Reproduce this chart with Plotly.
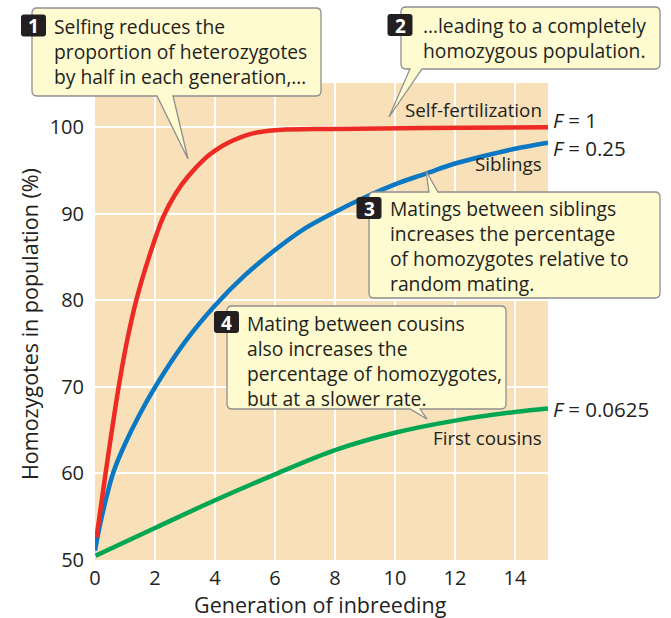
import plotly.graph_objects as go

# Generation of inbreeding vs. percentage of homozygotes for three mating systems
self_gen = [0.05, 0.36, 0.77, 1.05, 1.39, 1.83, 2.27, 2.7, 3.1, 3.67, 4.0, 4.44, 5.17, 6.0, 8.0, 11.0, 15.1]
self_hom = [52.6, 60.2, 69.6, 75.0, 80.2, 85.3, 89.6, 92.4, 94.3, 96.4, 97.3, 98.2, 99.2, 99.65, 99.8, 99.9, 100.0]

sib_gen = [0.0, 0.22, 0.61, 1.0, 1.5, 2.06, 3.0, 4.0, 5.0, 6.0, 7.0, 8.0, 9.0, 10.0, 11.0, 12.0, 13.0, 14.0, 15.1]
sib_hom = [51.1, 54.9, 60.1, 63.4, 66.9, 70.3, 75.2, 79.4, 82.9, 85.8, 88.3, 90.2, 91.9, 93.4, 94.6, 95.8, 96.7, 97.5, 98.2]

cousin_gen = [0.02, 2.0, 4.0, 6.0, 8.0, 10.0, 12.0, 14.0, 15.1]
cousin_hom = [50.5, 53.7, 56.9, 59.9, 62.7, 64.7, 66.1, 67.1, 67.5]

x_ticks = [0, 2, 4, 6, 8, 10, 12, 14]
y_ticks = [50, 60, 70, 80, 90, 100]

curve_names = ["Self-fertilization", "Siblings", "First cousins"]
f_labels = ["<i>F</i> = 1", "<i>F</i> = 0.25", "<i>F</i> = 0.0625"]

callouts = [
    ("1", ["Selfing reduces the", "proportion of heterozygotes", "by half in each generation,…"]),
    ("2", ["…leading to a completely", "homozygous population."]),
    ("3", ["Matings between siblings", "increases the percentage",
           "of homozygotes relative to", "random mating."]),
    ("4", ["Mating between cousins", "also increases the",
           "percentage of homozygotes,", "but at a slower rate."]),
]

W, H = 671, 618
PL, PR, PT, PB = 95, 548, 83, 560
TXT = "#231F20"
FONT = "Open Sans"


def X(px):
    return (px - PL) / (PR - PL)


def Y(py):
    return (PB - py) / (PB - PT)


def P(px, py):
    return f"{X(px):.5f},{Y(py):.5f}"


def bubble(L, T, R, B, tail=None, r=5):
    """Rounded callout box; tail = (side, base_left, base_right, tip_x, tip_y)."""
    d = [f"M {P(L + r, T)}"]
    if tail and tail[0] == "top":
        _, bl, br, tx, ty = tail
        d += [f"L {P(bl, T)}", f"L {P(tx, ty)}", f"L {P(br, T)}"]
    d += [f"L {P(R - r, T)}", f"Q {P(R, T)} {P(R, T + r)}",
          f"L {P(R, B - r)}", f"Q {P(R, B)} {P(R - r, B)}"]
    if tail and tail[0] == "bottom":
        _, bl, br, tx, ty = tail
        d += [f"L {P(br, B)}", f"L {P(tx, ty)}", f"L {P(bl, B)}"]
    d += [f"L {P(L + r, B)}", f"Q {P(L, B)} {P(L, B - r)}",
          f"L {P(L, T + r)}", f"Q {P(L, T)} {P(L + r, T)}", "Z"]
    return " ".join(d)


fig = go.Figure()
for xs, ys, col in [(cousin_gen, cousin_hom, "#00A651"),
                    (sib_gen, sib_hom, "#0A78C2"),
                    (self_gen, self_hom, "#EE2A24")]:
    fig.add_trace(go.Scatter(x=xs, y=ys, mode="lines",
                             line=dict(color=col, width=4.5, shape="spline", smoothing=1.0),
                             hoverinfo="skip", showlegend=False))

shapes = []
annotations = []

# callout boxes: (L, T, R, B, tail, badge centre, text left, text centre y)
geom = [
    (32, 8, 321, 96, ("bottom", 157, 173, 188, 159), (33.5, 25.5), 52, 51.5),
    (401, 7, 660, 69, ("bottom", 410, 422, 389, 117), (400, 25), 421, 38.5),
    (369, 192, 660, 298, ("top", 429, 438, 426, 171), (369, 208), 388, 245.5),
    (227, 306, 506, 409, ("bottom", 410, 420, 427, 419), (226.5, 322), 245, 360.5),
]
for (num, lines), (L, T, R, B, tail, (bx, by), tx, ty) in zip(callouts, geom):
    shapes.append(dict(type="path", xref="paper", yref="paper", layer="above",
                       path=bubble(L, T, R, B, tail),
                       fillcolor="#FFFBD0", line=dict(color="#8E8E8E", width=1.3)))
    shapes.append(dict(type="path", xref="paper", yref="paper", layer="above",
                       path=bubble(bx - 12.5, by - 11, bx + 12.5, by + 11, r=3),
                       fillcolor=TXT, line=dict(width=0)))
    annotations.append(dict(xref="paper", yref="paper", x=X(bx), y=Y(by + 0.5),
                            xanchor="center", yanchor="middle",
                            text=f"<b>{num}</b>", showarrow=False,
                            font=dict(family=FONT, size=19, color="white")))
    annotations.append(dict(xref="paper", yref="paper", x=X(tx), y=Y(ty),
                            xanchor="left", yanchor="middle", align="left",
                            text="<br>".join(lines), showarrow=False,
                            font=dict(family=FONT, size=19.3, color=TXT)))

# curve names and inbreeding coefficients
for name, yy in zip(curve_names, [110, 164, 438]):
    annotations.append(dict(xref="paper", yref="paper", x=X(544), y=Y(yy),
                            xanchor="right", yanchor="middle", text=name, showarrow=False,
                            font=dict(family=FONT, size=18.8, color=TXT)))
for lab, yy in zip(f_labels, [120, 147.5, 409]):
    annotations.append(dict(xref="paper", yref="paper", x=X(551), y=Y(yy),
                            xanchor="left", yanchor="middle", text=lab, showarrow=False,
                            font=dict(family=FONT, size=20.5, color=TXT)))

# axis titles
annotations.append(dict(xref="paper", yref="paper", x=X(320), y=Y(604),
                        xanchor="center", yanchor="middle", showarrow=False,
                        text="Generation of inbreeding",
                        font=dict(family=FONT, size=21.5, color=TXT)))
annotations.append(dict(xref="paper", yref="paper", x=X(29), y=Y(324),
                        xanchor="center", yanchor="middle", showarrow=False, textangle=-90,
                        text="Homozygotes in population (%)",
                        font=dict(family=FONT, size=21.5, color=TXT)))

fig.update_layout(
    width=W, height=H,
    margin=dict(l=PL, r=W - PR, t=PT, b=H - PB, pad=0),
    paper_bgcolor="white", plot_bgcolor="#F8E0B9",
    shapes=shapes, annotations=annotations,
    font=dict(family=FONT, color=TXT),
    xaxis=dict(range=[0, 15.1], tickvals=x_ticks, showgrid=True, gridcolor="white",
               gridwidth=1.6, zeroline=False, showline=False, ticks="",
               tickfont=dict(family=FONT, size=20, color=TXT), ticklabelstandoff=4,
               fixedrange=True),
    yaxis=dict(range=[50, 105.1], tickvals=y_ticks, showgrid=True, gridcolor="white",
               gridwidth=1.6, zeroline=False, showline=False, ticks="",
               tickfont=dict(family=FONT, size=20, color=TXT), ticklabelstandoff=10,
               fixedrange=True),
)

fig.write_html("out.html", config={"displayModeBar": False})
